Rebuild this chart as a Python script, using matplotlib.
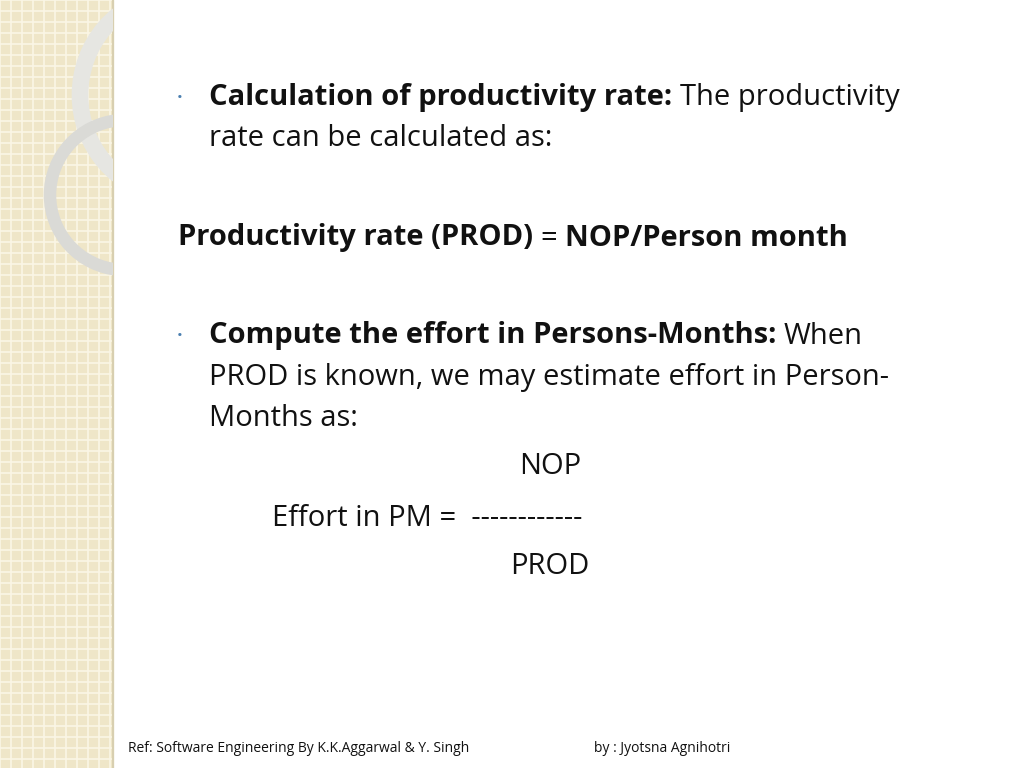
import matplotlib
matplotlib.use("Agg")
import matplotlib.pyplot as plt
from matplotlib.patches import Rectangle, Arc
import numpy as np

# slide text: each line is a list of (text, bold) runs, with x, y in pixels
line_x = [209, 209, 178, 209, 209, 209, 550, 272, 550]
line_y = [98, 139, 238, 336, 377, 418, 467, 518, 567]
line_runs = [
    [("Calculation of productivity rate: ", True), ("The productivity", False)],
    [("rate can be calculated as:", False)],
    [("Productivity rate (PROD) ", True), ("= ", False), ("NOP/Person month", True)],
    [("Compute the effort in Persons-Months: ", True), ("When", False)],
    [("PROD is known, we may estimate effort in Person-", False)],
    [("Months as:", False)],
    [("NOP", False)],
    [("Effort in PM =  ------------", False)],
    [("PROD", False)],
]
line_center = [False, False, False, False, False, False, True, False, True]
bullet_y = [98, 336]
footer_left = "Ref: Software Engineering By K.K.Aggarwal & Y. Singh"
footer_right = "by : Jyotsna Agnihotri"

plt.rcParams["font.family"] = "Open Sans"
fig = plt.figure(figsize=(10.24, 7.68), dpi=100)
ax = fig.add_axes([0, 0, 1, 1])
ax.set_xlim(0, 1024)
ax.set_ylim(768, 0)
ax.axis("off")

# left decorative strip
strip = Rectangle((0, 0), 113, 768, color="#efe6c8", zorder=0)
ax.add_patch(strip)
for g in np.arange(0, 768, 11):
    ax.plot([0, 113], [g, g], color="#fbf6e6", lw=1.2, zorder=1)
for g in np.arange(0, 113, 11):
    ax.plot([g, g], [0, 768], color="#fbf6e6", lw=1.2, zorder=1)
ax.plot([113, 113], [0, 768], color="#d8cfb0", lw=1.5, zorder=2)
a1 = ax.add_patch(Arc((175, 95), 190, 200, theta1=95, theta2=265, color="#e6e6e2", lw=12, zorder=2))
a2 = ax.add_patch(Arc((125, 195), 150, 150, theta1=95, theta2=265, color="#dadad6", lw=9, zorder=2))
a1.set_clip_path(strip)
a2.set_clip_path(strip)

fig.canvas.draw()
r = fig.canvas.get_renderer()
inv = ax.transData.inverted()
fs = 21
for x, y, runs, c in zip(line_x, line_y, line_runs, line_center):
    if c:
        ax.text(x, y, runs[0][0], fontsize=fs, ha="center", va="center", color="#111111")
        continue
    cx = x
    for s, b in runs:
        t = ax.text(cx, y, s, fontsize=fs, fontweight="bold" if b else "normal",
                    va="center", ha="left", color="#111111")
        bb = t.get_window_extent(r)
        cx = inv.transform((bb.x1, 0))[0]
for by in bullet_y:
    ax.text(180, by, "•", fontsize=11, color="#4a7fb0", va="center", ha="center")

ax.text(128, 749, footer_left, fontsize=10, va="center", color="#111111")
ax.text(594, 749, footer_right, fontsize=10, va="center", color="#111111")

fig.savefig("out.png", dpi=100)
